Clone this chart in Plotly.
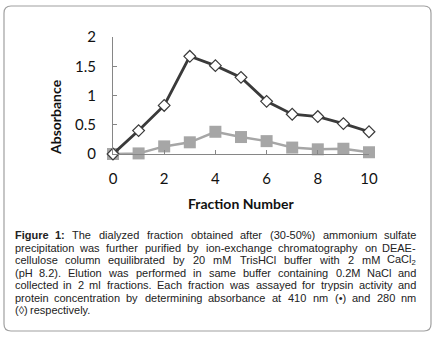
import plotly.graph_objects as go

fractions = [0, 1, 2, 3, 4, 5, 6, 7, 8, 9, 10]
abs_280 = [0.0, 0.40, 0.83, 1.67, 1.51, 1.31, 0.90, 0.68, 0.64, 0.52, 0.38]
abs_410 = [0.0, 0.01, 0.13, 0.20, 0.38, 0.29, 0.22, 0.11, 0.08, 0.09, 0.03]
y_ticks = [0, 0.5, 1, 1.5, 2]
y_ticklabels = ["0", "0.5", "1", "1.5", "2"]
x_ticks = [0, 2, 4, 6, 8, 10]

caption_lines = [
    "Figure 1: The dialyzed fraction obtained after (30-50%) ammonium sulfate",
    "precipitation was further purified by ion-exchange chromatography on DEAE-",
    "cellulose column equilibrated by 20 mM TrisHCl buffer with 2 mM CaCl_2",
    "(pH 8.2). Elution was performed in same buffer containing 0.2M NaCl and",
    "collected in 2 ml fractions. Each fraction was assayed for trypsin activity and",
    "protein concentration by determining absorbance at 410 nm (•) and 280 nm",
    "(◊) respectively.",
]

W, H = 437, 339
L, R, T, B = 113, 68, 37, 185
pw, ph = W - L - R, H - T - B

def px(x):
    return (x - L) / pw

def py(y):
    return (H - B - y) / ph

# Arial / Liberation Sans advance widths (per 1000 em)
AW = {' ': 278, '(': 333, ')': 333, '-': 333, '.': 278, ',': 278, ':': 278, '%': 889,
      '•': 350, '◊': 494}
for c in '0123456789':
    AW[c] = 556
AW.update(dict(A=667, B=667, C=722, D=722, E=667, F=611, G=778, H=722, I=278, J=500, K=667,
               L=556, M=833, N=722, O=778, P=667, Q=778, R=722, S=667, T=611, U=722, V=667,
               W=944, X=667, Y=667, Z=611))
AW.update(dict(a=556, b=556, c=500, d=556, e=556, f=278, g=556, h=556, i=222, j=222, k=500,
               l=222, m=833, n=556, o=556, p=556, q=556, r=333, s=500, t=278, u=556, v=500,
               w=722, x=500, y=500, z=500))
BW = dict(AW)
BW.update({'F': 611, 'i': 278, 'g': 611, 'u': 611, 'r': 389, 'e': 556, ':': 333})

FS = 11

def word_width(w, bold=False):
    tab = BW if bold else AW
    if w.endswith('_2'):
        return sum(tab.get(c, 556) for c in w[:-2]) * FS / 1000 + 0.556 * FS * 0.7
    return sum(tab.get(c, 556) for c in w) * FS / 1000

fig = go.Figure()
fig.add_trace(go.Scatter(
    x=fractions, y=abs_410, mode="lines+markers",
    line=dict(color="#a6a6a6", width=2.5),
    marker=dict(symbol="square", size=12, color="#a6a6a6"),
    cliponaxis=False, showlegend=False))
fig.add_trace(go.Scatter(
    x=fractions, y=abs_280, mode="lines+markers",
    line=dict(color="#3a3a3a", width=2.8),
    marker=dict(symbol="diamond", size=9, color="white", line=dict(color="#3a3a3a", width=1.2)),
    cliponaxis=False, showlegend=False))

fig.update_xaxes(range=[0, 10], tickvals=x_ticks, showgrid=False, zeroline=False,
                 showline=True, linecolor="#868686", linewidth=1,
                 ticks="inside", ticklen=4, tickcolor="#868686",
                 ticklabelstandoff=11,
                 tickfont=dict(family="Lato", size=15, color="#111"))
fig.update_yaxes(range=[0, 2], tickvals=y_ticks, ticktext=y_ticklabels,
                 showgrid=False, zeroline=False,
                 showline=True, linecolor="#868686", linewidth=1,
                 ticks="inside", ticklen=4, tickcolor="#868686",
                 ticklabelstandoff=13,
                 tickfont=dict(family="Lato", size=15, color="#111"))

ann = []
ann.append(dict(x=px(241), y=py(203), xref="paper", yref="paper", text="<b>Fraction Number</b>",
                showarrow=False, font=dict(family="Lato", size=14, color="#111"),
                xanchor="center", yanchor="middle"))
ann.append(dict(x=px(55), y=py(117), xref="paper", yref="paper", text="<b>Absorbance</b>",
                showarrow=False, textangle=-90, font=dict(family="Lato", size=14, color="#111"),
                xanchor="center", yanchor="middle"))

XL, XR = 14, 417
for i, line in enumerate(caption_lines):
    yy = py(235 + 12.5 * i)
    words = line.split(' ')
    bolds = [line.startswith('Figure 1:') and j < 2 for j in range(len(words))]
    last = (i == len(caption_lines) - 1)
    widths = [word_width(w, b) for w, b in zip(words, bolds)]
    if last or len(words) < 2:
        gap = FS * 0.278
    else:
        gap = (XR - XL - sum(widths)) / (len(words) - 1)
    xpos = XL
    for j, (w, b, wd) in enumerate(zip(words, bolds, widths)):
        txt = w.replace('_2', '<sub>2</sub>')
        if b:
            txt = '<b>' + txt + '</b>'
        if j == 0:
            xa, xv = 'left', xpos
        elif j == len(words) - 1 and not last:
            xa, xv = 'right', XR
        else:
            xa, xv = 'center', xpos + wd / 2
        ann.append(dict(x=px(xv), y=yy, xref="paper", yref="paper", text=txt,
                        showarrow=False, font=dict(family="Liberation Sans", size=FS, color="#222"),
                        xanchor=xa, yanchor="middle", borderpad=0))
        xpos += wd + gap

r = 7
x0, x1, y0, y1 = px(4), px(431), py(6), py(331)
rx, ry = r / pw, r / ph
path = (f"M {x0+rx},{y0} L {x1-rx},{y0} Q {x1},{y0} {x1},{y0-ry} "
        f"L {x1},{y1+ry} Q {x1},{y1} {x1-rx},{y1} L {x0+rx},{y1} Q {x0},{y1} {x0},{y1+ry} "
        f"L {x0},{y0-ry} Q {x0},{y0} {x0+rx},{y0} Z")
fig.add_shape(type="path", path=path, xref="paper", yref="paper",
              line=dict(color="#a0a0a0", width=1.2))

fig.update_layout(width=W, height=H, margin=dict(l=L, r=R, t=T, b=B),
                  paper_bgcolor="white", plot_bgcolor="white", annotations=ann)
fig.write_html("out.html", config={"displayModeBar": False},
               post_script="document.body.style.margin='0';document.body.style.overflow='hidden';")
